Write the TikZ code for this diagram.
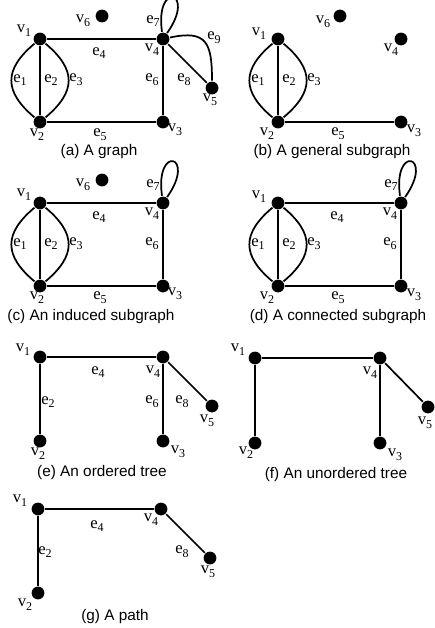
\documentclass[tikz,border=0pt]{standalone}
\usepackage{fontspec}
\setmainfont{Liberation Serif}
\newfontfamily\capfont{Liberation Sans}
\usepackage{tikz}

\newcommand{\vl}[1]{v\raisebox{-0.5ex}{\fontsize{9}{10}\selectfont #1}}
\newcommand{\el}[1]{e\raisebox{-0.5ex}{\fontsize{9}{10}\selectfont #1}}

\begin{document}
\begin{tikzpicture}[x=0.75pt, y=0.75pt, line width=1.3pt,
  vert/.style={circle, fill=black, inner sep=0pt, minimum size=9.6pt},
  lbl/.style={inner sep=0pt, font=\fontsize{12.5}{14}\selectfont},
  captext/.style={inner sep=0pt, font=\capfont\fontsize{11.5}{14}\selectfont}]
\useasboundingbox (0,0) rectangle (435,-628);

% (a) A graph
\begin{scope}
\node[vert] (a1) at (40,-39) {};
\node[vert] (a2) at (40,-122) {};
\node[vert] (a3) at (163,-122) {};
\node[vert] (a4) at (163,-39) {};
\node[vert] (a5) at (212,-88) {};
\node[vert] (a6) at (102,-16) {};

\draw (a1) to[bend right=50, looseness=1.4] (a2);
\draw (a1) -- (a2);
\draw (a1) to[bend left=50, looseness=1.4] (a2);
\draw (a1) -- (a4);
\draw (a2) -- (a3);
\draw (a4) -- (a3);
\draw (a4) to[out=98, in=55, min distance=39pt] (a4);
\draw (a4) -- (a5);
\draw (a4) to[out=12, in=90, looseness=1.6] (a5);

\node[lbl] (a1t) at (24,-31) {\vl{1}};
\node[lbl] (a2t) at (37,-135) {\vl{2}};
\node[lbl] (a3t) at (175,-130) {\vl{3}};
\node[lbl] (a4t) at (152,-50) {\vl{4}};
\node[lbl] (a5t) at (210,-100) {\vl{5}};
\node[lbl] (a6t) at (83,-21) {\vl{6}};
\node[lbl] (a-e1) at (20,-80) {\el{1}};
\node[lbl] (a-e2) at (51,-80) {\el{2}};
\node[lbl] (a-e3) at (76,-80) {\el{3}};
\node[lbl] (a-e4) at (99,-53) {\el{4}};
\node[lbl] (a-e5) at (100,-135) {\el{5}};
\node[lbl] (a-e6) at (152,-80) {\el{6}};
\node[lbl] (a-e7) at (153,-21) {\el{7}};
\node[lbl] (a-e8) at (184,-80) {\el{8}};
\node[lbl] (a-e9) at (214,-38) {\el{9}};
\node[captext] (acap) at (99,-152) {(a) A graph};
\end{scope}

% (b) A general subgraph
\begin{scope}[shift={(238,0)}]
\node[vert] (b1) at (40,-39) {};
\node[vert] (b2) at (40,-122) {};
\node[vert] (b3) at (163,-122) {};
\node[vert] (b4) at (163,-39) {};
\node[vert] (b6) at (102,-16) {};

\draw (b1) to[bend right=50, looseness=1.4] (b2);
\draw (b1) -- (b2);
\draw (b1) to[bend left=50, looseness=1.4] (b2);
\draw (b2) -- (b3);

\node[lbl] (b1t) at (21,-34) {\vl{1}};
\node[lbl] (b2t) at (29,-134) {\vl{2}};
\node[lbl] (b3t) at (176,-131) {\vl{3}};
\node[lbl] (b4t) at (153,-50) {\vl{4}};
\node[lbl] (b6t) at (85,-22) {\vl{6}};
\node[lbl] (b-e1) at (20,-80) {\el{1}};
\node[lbl] (b-e2) at (51,-80) {\el{2}};
\node[lbl] (b-e3) at (76,-80) {\el{3}};
\node[lbl] (b-e5) at (100,-134) {\el{5}};
\node[captext] (bcap) at (94,-152) {(b) A general subgraph};
\end{scope}

% (c) An induced subgraph
\begin{scope}[shift={(0,-164)}]
\node[vert] (c1) at (40,-39) {};
\node[vert] (c2) at (40,-122) {};
\node[vert] (c3) at (163,-122) {};
\node[vert] (c4) at (163,-39) {};
\node[vert] (c6) at (102,-16) {};

\draw (c1) to[bend right=50, looseness=1.4] (c2);
\draw (c1) -- (c2);
\draw (c1) to[bend left=50, looseness=1.4] (c2);
\draw (c1) -- (c4);
\draw (c2) -- (c3);
\draw (c4) -- (c3);
\draw (c4) to[out=98, in=55, min distance=39pt] (c4);

\node[lbl] (c1t) at (24,-31) {\vl{1}};
\node[lbl] (c2t) at (37,-134) {\vl{2}};
\node[lbl] (c3t) at (175,-130) {\vl{3}};
\node[lbl] (c4t) at (152,-50) {\vl{4}};
\node[lbl] (c6t) at (83,-21) {\vl{6}};
\node[lbl] (c-e1) at (20,-80) {\el{1}};
\node[lbl] (c-e2) at (51,-80) {\el{2}};
\node[lbl] (c-e3) at (76,-80) {\el{3}};
\node[lbl] (c-e4) at (99,-53) {\el{4}};
\node[lbl] (c-e5) at (100,-134) {\el{5}};
\node[lbl] (c-e6) at (152,-80) {\el{6}};
\node[lbl] (c-e7) at (153,-21) {\el{7}};
\node[captext] (ccap) at (91,-153) {(c) An induced subgraph};
\end{scope}

% (d) A connected subgraph
\begin{scope}[shift={(238,-164)}]
\node[vert] (d1) at (40,-39) {};
\node[vert] (d2) at (40,-122) {};
\node[vert] (d3) at (163,-122) {};
\node[vert] (d4) at (163,-39) {};

\draw (d1) to[bend right=50, looseness=1.4] (d2);
\draw (d1) -- (d2);
\draw (d1) to[bend left=50, looseness=1.4] (d2);
\draw (d1) -- (d4);
\draw (d2) -- (d3);
\draw (d4) -- (d3);
\draw (d4) to[out=98, in=55, min distance=39pt] (d4);

\node[lbl] (d1t) at (21,-33) {\vl{1}};
\node[lbl] (d2t) at (29,-134) {\vl{2}};
\node[lbl] (d3t) at (176,-131) {\vl{3}};
\node[lbl] (d4t) at (152,-50) {\vl{4}};
\node[lbl] (d-e1) at (20,-80) {\el{1}};
\node[lbl] (d-e2) at (51,-80) {\el{2}};
\node[lbl] (d-e3) at (76,-80) {\el{3}};
\node[lbl] (d-e4) at (99,-53) {\el{4}};
\node[lbl] (d-e5) at (100,-134) {\el{5}};
\node[lbl] (d-e6) at (152,-80) {\el{6}};
\node[lbl] (d-e7) at (153,-21) {\el{7}};
\node[captext] (dcap) at (100,-153) {(d) A connected subgraph};
\end{scope}

% (e) An ordered tree
\begin{scope}[shift={(0,-318)}]
\node[vert] (e1) at (40,-39) {};
\node[vert] (e2) at (40,-123) {};
\node[vert] (e3) at (163,-123) {};
\node[vert] (e4) at (163,-39) {};
\node[vert] (e5) at (212,-88) {};

\draw (e1) -- (e2);
\draw (e1) -- (e4);
\draw (e4) -- (e3);
\draw (e4) -- (e5);

\node[lbl] (e1t) at (23,-32) {\vl{1}};
\node[lbl] (e2t) at (38,-136) {\vl{2}};
\node[lbl] (e3t) at (178,-134) {\vl{3}};
\node[lbl] (e4t) at (153,-54) {\vl{4}};
\node[lbl] (e5t) at (207,-103) {\vl{5}};
\node[lbl] (e-e2) at (48,-84) {\el{2}};
\node[lbl] (e-e4) at (98,-54) {\el{4}};
\node[lbl] (e-e6) at (152,-84) {\el{6}};
\node[lbl] (e-e8) at (182,-84) {\el{8}};
\node[captext] (ecap) at (102,-155) {(e) An ordered tree};
\end{scope}

% (f) An unordered tree
\begin{scope}[shift={(215,-319)}]
\node[vert] (f1) at (40,-39) {};
\node[vert] (f2) at (40,-124) {};
\node[vert] (f3) at (165,-124) {};
\node[vert] (f4) at (165,-39) {};
\node[vert] (f5) at (213,-88) {};

\draw (f1) -- (f2);
\draw (f1) -- (f4);
\draw (f4) -- (f3);
\draw (f4) -- (f5);

\node[lbl] (f1t) at (23,-31) {\vl{1}};
\node[lbl] (f2t) at (31,-134) {\vl{2}};
\node[lbl] (f3t) at (180,-136) {\vl{3}};
\node[lbl] (f4t) at (155,-54) {\vl{4}};
\node[lbl] (f5t) at (210,-104) {\vl{5}};
\node[captext] (fcap) at (121,-156) {(f) An unordered tree};
\end{scope}

% (g) A path
\begin{scope}[shift={(-2,-470)}]
\node[vert] (g1) at (40,-39) {};
\node[vert] (g2) at (40,-123) {};
\node[vert] (g4) at (163,-39) {};
\node[vert] (g5) at (212,-88) {};

\draw (g1) -- (g2);
\draw (g1) -- (g4);
\draw (g4) -- (g5);

\node[lbl] (g1t) at (22,-31) {\vl{1}};
\node[lbl] (g2t) at (27,-135) {\vl{2}};
\node[lbl] (g4t) at (153,-50) {\vl{4}};
\node[lbl] (g5t) at (210,-102) {\vl{5}};
\node[lbl] (g-e2) at (47,-82) {\el{2}};
\node[lbl] (g-e4) at (99,-56) {\el{4}};
\node[lbl] (g-e8) at (184,-82) {\el{8}};
\node[captext] (gcap) at (117,-147) {(g) A path};
\end{scope}
\end{tikzpicture}
\end{document}
